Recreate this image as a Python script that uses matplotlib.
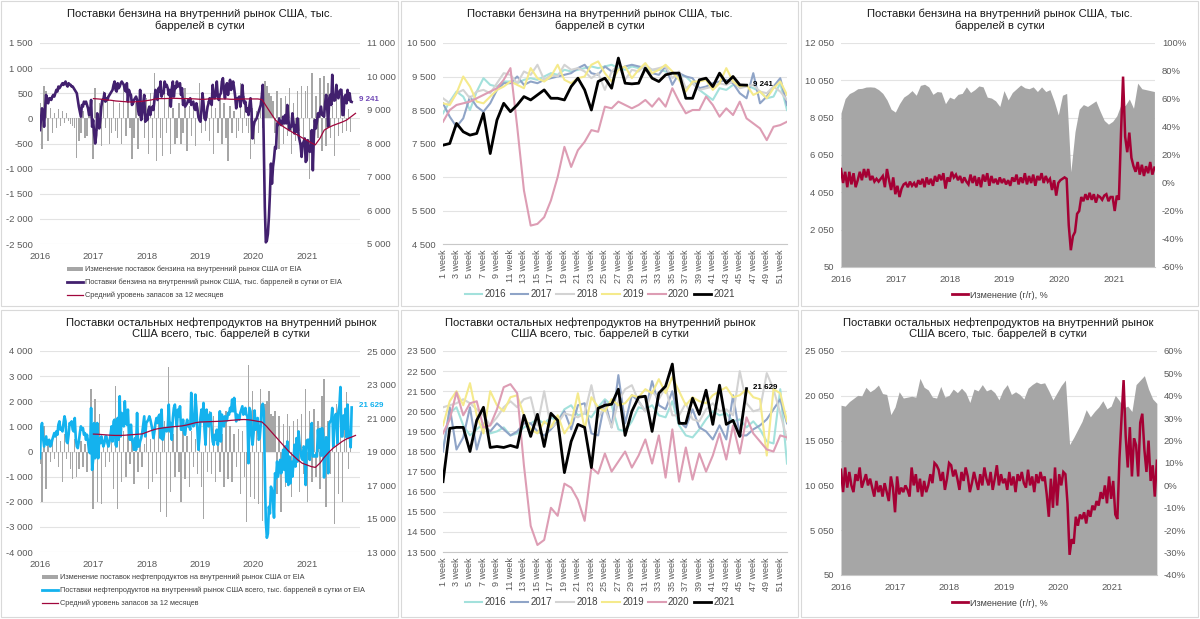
import pandas as pd
import matplotlib
matplotlib.use("Agg")
import matplotlib.pyplot as plt
from matplotlib.patches import Rectangle, Patch
from matplotlib.lines import Line2D
from matplotlib.ticker import FuncFormatter

plt.rcParams['font.family'] = ['Liberation Sans', 'DejaVu Sans']

# ---------------- data: gasoline, weekly by year (тыс. барр./сутки) ----------------
gas_2016 = [8400, 8750, 9050, 8900, 8500, 9050, 9450, 9250, 9200, 9350, 9350, 9300, 9400, 9450, 9400, 9500,
            9600, 9550, 9700, 9650, 9700, 9750, 9800, 9750, 9800, 9850, 9750, 9700, 9800, 9750, 9750, 9700,
            9700, 9650, 9600, 9550, 9500, 9300, 9100, 8950, 8800, 9150, 9100, 9250, 9200, 9250, 9150, 9050,
            8850, 8900, 9300, 8500]
gas_2017 = [8700, 8300, 8000, 8250, 8900, 8600, 8450, 8700, 9100, 9300, 9300, 9500, 9250, 9350, 9300, 9400,
            9450, 9500, 9550, 9600, 9750, 9850, 9600, 9550, 9800, 9650, 9700, 9800, 9850, 9800, 9750, 9600,
            9550, 9800, 9250, 9600, 9500, 9450, 9150, 9200, 9300, 9350, 9400, 9300, 9000, 8850, 9600, 8700,
            8900, 9200, 9450, 8650]
gas_2018 = [8850, 8700, 9000, 9100, 8850, 9050, 9100, 9000, 9300, 9600, 9550, 9300, 9650, 9550, 9850, 9400,
            9550, 9500, 9850, 9700, 9750, 9650, 9450, 9600, 9100, 9650, 9850, 9400, 9700, 9650, 9850, 9700,
            9750, 9800, 9450, 9650, 9150, 9300, 9100, 9150, 9200, 9300, 9250, 9350, 9150, 9200, 9250, 9050,
            9000, 9200, 9050, 8800]
gas_2019 = [8700, 8650, 9000, 9500, 9200, 8750, 8700, 8900, 9100, 9200, 9350, 9250, 9150, 9750, 9450, 9350,
            9500, 9850, 9400, 9300, 9450, 9500, 9850, 9950, 9600, 9350, 9700, 9800, 9450, 9700, 9900, 9600,
            9700, 9850, 9650, 9400, 9050, 9350, 9350, 9400, 9100, 9300, 9750, 9350, 9200, 9250, 8950, 9050,
            8850, 9150, 9350, 8950]
gas_2020 = [8150, 8500, 8650, 8700, 8750, 8850, 8950, 9050, 9150, 9400, 9750, 8000, 6100, 5050, 5100, 5300,
            5800, 6500, 7400, 6800, 7300, 7550, 7900, 7850, 8600, 8550, 8750, 8650, 8550, 8650, 8800, 8600,
            8850, 8600, 9150, 8750, 8400, 8500, 8500, 8900, 8650, 8300, 8550, 8350, 8750, 8250, 8100, 7950,
            7600, 8000, 8050, 8150]
gas_2021 = [7450, 7500, 8100, 7850, 7750, 7800, 8400, 7200, 8200, 8700, 8450, 8650, 8900, 8800, 8950, 9100,
            8850, 8850, 8800, 9200, 9450, 9100, 8500, 9350, 9450, 9150, 10050, 9300, 9280, 9300, 9750, 9450,
            9350, 9550, 9600, 9600, 8850, 8850, 9400, 9450, 9200, 9600, 9300, 9500, 9250, 9241]

# gasoline: change bars (bi-weekly)
gas_bars_2016 = [300, -600, 650, 550, -450, 200, -300, 100, -200, 180, -150, 150, -100, 100, -50, -120,
                 -150, -200, -780, -450, -300, 150, -400, -350, 200, 180]
gas_bars_2017 = [-800, 600, -250, 300, -550, 550, -200, 450, -500, -300, 350, -250, -400, 300, -500, 600,
                 -350, 400, -200, -800, -400, 300, -600, 250, 150, -400]
gas_bars_2018 = [400, -700, 500, -400, 900, -850, 650, -400, -750, 500, -300, 400, -700, 200, -500, -400,
                 300, -500, -300, 600, -650, 250, -350, 300, -550, 150]
gas_bars_2019 = [700, -300, 450, -250, 350, -450, 300, -700, 200, -300, 400, -500, 300, -400, -850, 250,
                 -300, 150, -400, -250, 700, -300, 450, -150, -300, -800]
gas_bars_2020 = [200, -500, 150, -300, 200, -200, 750, 650, 500, 450, 350, -300, 550, -600, 400, -500,
                 450, -350, 600, -700, 300, -450, 550, -250, 650, -500]
gas_bars_2021 = [550, 650, -1200, 900, -200, 450, -400, 800, -650, 850, -550, 700, -400, 250, -750, 400,
                 -350, 600, -300, 200, -250, 180, -280]

# gasoline: 12-month average, monthly from Jan 2017
gas_avg = [9340, 9330, 9320, 9300, 9290, 9270, 9260, 9250, 9240, 9240, 9250, 9260,
           9280, 9300, 9330, 9340, 9340, 9345, 9350, 9345, 9340, 9340, 9335, 9330,
           9320, 9320, 9330, 9330, 9335, 9330, 9330, 9320, 9320, 9325, 9330, 9330,
           9330, 9330, 9310, 9100, 8900, 8700, 8580, 8480, 8400, 8320, 8250, 8170,
           8100, 8020, 7960, 8150, 8400, 8480, 8540, 8590, 8640, 8700, 8800, 8900]

# gasoline: area (4-weekly) and y/y change (bi-weekly, %)
gas_area = [8300, 9070, 9340, 9450, 9600, 9620, 9690, 9700, 9680, 9550, 9350, 9000, 8500,
            8350, 8800, 9150, 9300, 9500, 9250, 9780, 9840, 9700, 9300, 9450, 9420, 8800,
            9150, 9050, 9300, 9350, 9700, 9400, 9550, 9750, 9700, 9150, 9100, 8950, 8650,
            9500, 9000, 9400, 9600, 9800, 9650, 9600, 9700, 9450, 9700, 9450, 9550, 8950,
            8200, 9250, 9350, 5150, 7300, 8500, 8750, 8650, 8800, 8950, 8400, 7900, 7700,
            7850, 8150, 8750, 8700, 9050, 8550, 9900, 9600, 9550, 9500, 9450]
gas_yoy = ([10, 0, 8, -3, 8, -1, 7, -3, 2, 8, 2, 10, 4, 10, 2, 5, 1, 3, 1, 3, 5, -3, 10, 2, -5, 4] +
           [-8, -2, -10, -4, -1, 0, -3, 1, -2, 0, -3, 2, -1, 3, -3, 4, -1, 3, -2, 5, 1, 6, 2, 7, -4, 4] +
           [1, 8, 4, 6, 2, 5, 0, 4, 1, -1, 6, 0, 5, -2, 4, -3, 6, 1, 7, -2, 5, 0, 3, -1, 4, 0] +
           [3, -1, 2, -2, 4, 1, 6, -1, 4, 0, 7, -1, 5, 0, 6, -2, 5, 2, 7, 0, 5, 1, 3, -5, 2, -9] +
           [0, 2, 3, 4, 3, -30, -48, -38, -35, -22, -20, -10, -13, -8, -12, -7, -12, -8, -14, -9,
            -10, -12, -9, -8, -13, -10] +
           [-10, -20, -9, -12, 35, 76, 33, 22, 36, 18, 12, 8, 15, 6, 13, 5, 12, 7, 15, 6, 11])

# ---------------- data: other products ----------------
oth_2016 = [18600, 20400, 20700, 19800, 19300, 19600, 19900, 19400, 19500, 19700, 19300, 19400, 19700,
            19900, 20100, 19900, 20200, 20000, 20600, 20800, 20300, 20400, 20200, 20700, 21100, 20800,
            19600, 19500, 20000, 20700, 20600, 20800, 20300, 20200, 21000, 19800, 19300, 19200, 19600,
            20100, 20500, 20300, 20400, 20000, 20100, 19700, 20000, 19600, 19000, 18900, 21600, 17900]
oth_2017 = [18500, 20700, 18600, 19200, 20700, 18600, 19800, 19500, 19900, 19600, 19300, 19500, 19900,
            19900, 19500, 19300, 19600, 20000, 20500, 19600, 20800, 20900, 19400, 19300, 21000, 19700,
            22300, 19900, 21300, 21000, 20500, 22000, 20800, 20600, 21500, 20000, 19700, 20600, 19700,
            19500, 19100, 19800, 19100, 21300, 19300, 19300, 19600, 19800, 20100, 20600, 21100, 19900]
oth_2018 = [20700, 20800, 20900, 21100, 20900, 20600, 20300, 19800, 20200, 20700, 21000, 20700, 21100,
            21200, 19800, 21500, 19700, 19900, 20400, 20300, 20200, 20400, 21800, 20200, 20700, 19700,
            21000, 21600, 21800, 21000, 20500, 21500, 21100, 21700, 20300, 20300, 20900, 20100, 20000,
            20600, 20900, 20500, 20600, 20300, 22500, 20900, 20500, 20600, 22400, 21600, 20400, 19100]
oth_2019 = [19800, 21000, 21500, 20800, 21900, 20300, 19400, 21500, 20800, 20500, 21200, 21300, 20300,
            19600, 19400, 20000, 19700, 20300, 19400, 19900, 21400, 19600, 21200, 20700, 20500, 21100,
            20800, 20900, 21300, 21200, 21600, 21400, 22100, 21400, 22200, 21500, 20800, 21200, 21000,
            20900, 21300, 21500, 21700, 21200, 21300, 21600, 21200, 21100, 18300, 21600, 21400, 20000]
oth_2020 = [19400, 20100, 21450, 20300, 20900, 21000, 19700, 19800, 20600, 21700, 21850, 21400, 17800,
            14800, 13850, 14100, 15700, 15300, 16900, 16700, 16100, 15050, 17700, 17400, 18400, 17500,
            18000, 18500, 17700, 18300, 19100, 17900, 19300, 17200, 19600, 17000, 18700, 17100, 18400,
            17500, 18300, 19400, 18100, 19800, 18400, 20200, 19400, 19000, 18600, 18500, 19300, 19200]
oth_2021 = [17000, 19650, 19700, 19700, 18500, 20050, 20700, 18700, 18750, 18700, 18800, 18700, 20300,
            19250, 20350, 18750, 20400, 20050, 17450, 19000, 19850, 19700, 17700, 20650, 20800, 20850,
            21600, 19300, 20500, 21200, 21250, 19500, 21400, 21750, 22850, 19900, 19900, 21150, 20350,
            21550, 19850, 21800, 19850, 20050, 19250, 21629]

oth_bars_2016 = [-500, -2000, 1000, -1500, 500, -400, 400, -300, 700, -600, 400, -1200, 700, -300, 900,
                 -700, -1100, 500, -1000, -700, 400, -600, 300, -800, 200, 2500]
oth_bars_2017 = [-2300, 2100, -2000, 1500, -2100, 400, -600, 300, -400, 800, -1500, 2600, -2300, 1700,
                 -1200, 800, -1000, 700, -500, 600, -1300, 500, -800, 400, -600, 300]
oth_bars_2018 = [1000, -1500, 500, -1200, 800, -900, 1200, -2400, 1600, 1200, -2600, 3350, -1600, 700,
                 -1000, 1500, -800, -2000, 1300, -1100, 600, -1400, 800, -600, 500, -900]
oth_bars_2019 = [1300, -1400, -2700, 1000, -800, 1600, -900, 1400, -1200, 900, -800, 700, -1400, 1600,
                 -1100, 1000, -1200, 700, -600, 900, -1700, 800, -1000, -2800, 3450, -1800]
oth_bars_2020 = [2400, -1900, 1000, -2100, 2500, -2750, 1900, 2000, 2400, 1500, 1400, 1600, -1700, 1400,
                 -2400, 1100, -1400, 1500, 1000, -1800, 1200, -500, 1300, -1600, 1500, -900]
oth_bars_2021 = [2500, -2000, 1600, -1200, 1700, -1000, 1200, -1500, 2200, 2900, -2200, 1200, -900, 1400,
                 -2900, 1900, -1700, 2400, -2000, 1000, 2350, -700, 800]

oth_avg = [20040, 20030, 20010, 19990, 19970, 19960, 19960, 19970, 19990, 20010, 20030, 20050,
           20150, 20250, 20330, 20380, 20420, 20450, 20480, 20500, 20530, 20580, 20650, 20720,
           20760, 20770, 20780, 20790, 20800, 20810, 20830, 20860, 20880, 20900, 20910, 20890,
           20850, 20800, 20760, 20500, 20200, 19900, 19600, 19300, 19000, 18750, 18500, 18300,
           18200, 18100, 18050, 18300, 18650, 18950, 19200, 19400, 19600, 19750, 19850, 19960]

oth_area = [19000, 18900, 19400, 19750, 20100, 20050, 21000, 20500, 20800, 21250, 20300, 20200, 17950,
            18800, 20500, 19800, 19900, 20000, 19900, 22000, 21000, 20700, 19900, 19800, 21100, 19900,
            20100, 20800, 20400, 20900, 20400, 19300, 20800, 20600, 21300, 20600, 20800, 20400, 19600,
            20700, 21300, 20200, 20500, 20200, 19700, 20900, 21300, 21600, 21400, 21500, 20600, 19600,
            20400, 21200, 21800, 14600, 15400, 16300, 17200, 18500, 17700, 18300, 18800, 19500, 18600,
            18900, 20100, 19500, 18700, 18900, 18300, 21300, 21800, 22300, 20800, 19700, 19200]
oth_yoy = ([7, -3, 8, -1, 6, 0, -3, 5, 2, 8, -1, 2, 5, 0, 3, -1, -5, 2, -3, 0, -5, 1, -3, -7, 4, -1] +
           [-12, 4, -4, -1, -3, 0, -2, -5, 8, 0, 5, -3, 3, -5, 2, -3, 0, 5, 1, 10, 9, 7, 2, 6, -2, 3] +
           [10, 9, 4, 7, 3, -2, 6, 2, 8, 4, -3, 1, 6, 2, -2, 5, 0, 8, 3, 0, 6, -2, 3, 9, 0, 5] +
           [1, 3, -2, 6, 0, 4, -3, 5, 2, 6, 1, -1, 7, 0, 4, -3, 5, 1, 6, 2, 4, -4, -14, 3, -10, 8] +
           [-9, 5, 0, 6, 5, -8, -31, -24, -26, -14, -18, -13, -15, -12, -17, -11, -14, -9, -11, -7,
            -9, -3, -6, 0, -8, 4] +
           [-6, 2, -13, -15, 12, 30, 47, 22, 8, 26, 4, 21, 18, 4, 28, 32, 16, 6, 20, 2, 9, -5, 11])

years = ['2016', '2017', '2018', '2019', '2020', '2021']
year_colors = ['#a3e1dc', '#8fa4c7', '#d3d3d3', '#f5ea8c', '#dd9db4', '#000000']
week_labels = [f'{w} week' for w in range(1, 53, 2)]

title_gas = 'Поставки бензина на внутренний рынок США, тыс.\nбаррелей в сутки'
title_oth = 'Поставки остальных нефтепродуктов на внутренний рынок\nСША всего, тыс. баррелей в сутки'

# ---------------- helpers ----------------
W, H = 1200, 619
fig = plt.figure(figsize=(12, 6.19), dpi=100)
TICK = '#595959'
GRID = '#e3e3e3'


def ax_at(x0, y0, x1, y1):
    return fig.add_axes([x0 / W, 1 - y1 / H, (x1 - x0) / W, (y1 - y0) / H])


def num(v, pos=None):
    s = f'{abs(v):,.0f}'.replace(',', ' ')
    return '-' + s if v < 0 else s


def pct(v, pos=None):
    return f'{v:.0f}%'


def clean(ax, grid=True):
    for s in ax.spines.values():
        s.set_visible(False)
    ax.tick_params(length=0, labelsize=6.8, colors=TICK, pad=5)
    if grid:
        ax.yaxis.grid(True, color=GRID, lw=0.8)
        ax.set_axisbelow(True)


def year_axis(ax, end):
    ax.set_xlim(pd.Timestamp('2016-01-01'), pd.Timestamp(end))
    ax.set_xticks([pd.Timestamp(f'{y}-01-01') for y in years])
    ax.set_xticklabels(years)


def title(x, y, text):
    fig.text(x / W, 1 - y / H, text, ha='center', va='top', fontsize=8.1, color='#1a1a1a',
             linespacing=1.15)


# panel frames
for (x, y, w, h) in [(1, 1, 397, 305), (401, 1, 397, 305), (801, 1, 397, 305),
                     (1, 310, 397, 307), (401, 310, 397, 307), (801, 310, 397, 307)]:
    fig.patches.append(Rectangle((x / W, 1 - (y + h) / H), w / W, h / H, transform=fig.transFigure,
                                 fill=False, edgecolor='#d9d9d9', lw=0.8))

weekly_dates = pd.date_range('2016-01-01', periods=306, freq='7D')
biweek_dates = pd.date_range('2016-01-01', periods=153, freq='14D')
avg_dates = pd.date_range('2017-01-01', periods=60, freq='MS')


def history_panel(box, ttl, tx, ty, bars, line, avg, left_lim, left_step, right_lim, right_step,
                  line_color, label_color, labels, leg_xy):
    ax = ax_at(*box)
    clean(ax)
    ax.bar(biweek_dates[:len(bars)], bars, width=9.5, color='#a6a6a6', zorder=2)
    ax.set_ylim(*left_lim)
    ax.set_yticks(range(left_lim[0], left_lim[1] + 1, left_step))
    ax.yaxis.set_major_formatter(FuncFormatter(num))
    year_axis(ax, '2022-01-01')
    ax.tick_params(axis='x', pad=6)
    axr = ax.twinx()
    clean(axr, grid=False)
    axr.plot(weekly_dates[:len(line)], line, color=line_color, lw=1.9, solid_joinstyle='round')
    axr.plot(avg_dates, avg, color='#a0063c', lw=0.9)
    axr.set_ylim(*right_lim)
    axr.set_yticks(range(right_lim[0], right_lim[1] + 1, right_step))
    axr.yaxis.set_major_formatter(FuncFormatter(num))
    axr.annotate(num(line[-1]), xy=(weekly_dates[len(line) - 1], line[-1]), xytext=(5, 1.5),
                 textcoords='offset points', fontsize=5.8, fontweight='bold', color=label_color,
                 va='center', ha='left')
    title(tx, ty, ttl)
    handles = [Patch(facecolor='#a6a6a6'), Line2D([], [], color=line_color, lw=2),
               Line2D([], [], color='#a0063c', lw=0.9)]
    fig.legend(handles, labels, loc='upper left', bbox_to_anchor=(leg_xy[0] / W, 1 - leg_xy[1] / H),
               frameon=False, fontsize=5.3, handlelength=2.2, handleheight=0.6, handletextpad=0.2,
               labelspacing=0.75, borderpad=0, borderaxespad=0, labelcolor='#404040')


def season_panel(box, ttl, tx, ty, series, lim, leg_y, end_label):
    ax = ax_at(*box)
    clean(ax)
    ax.spines['bottom'].set_visible(True)
    ax.spines['bottom'].set_color('#c8c8c8')
    for vals, col, yr in zip(series, year_colors, years):
        ax.plot(range(1, len(vals) + 1), vals, color=col, lw=2.0 if yr == '2021' else 1.5,
                solid_joinstyle='round', label=yr)
    last = series[-1]
    ax.annotate(end_label, xy=(len(last), last[-1]), xytext=(4.5, 0.5), textcoords='offset points',
                fontsize=5.8, fontweight='bold', va='center', ha='left')
    ax.set_xlim(1, 52)
    ax.set_ylim(*lim)
    ax.set_yticks(range(lim[0], lim[1] + 1, 1000))
    ax.yaxis.set_major_formatter(FuncFormatter(num))
    ax.set_xticks(range(1, 53, 2))
    ax.set_xticklabels(week_labels, rotation=90, fontsize=6.5)
    ax.tick_params(axis='x', pad=4)
    title(tx, ty, ttl)
    ax.legend(loc='center', bbox_to_anchor=(600 / W, 1 - leg_y / H), bbox_transform=fig.transFigure,
              ncol=6, frameon=False, fontsize=7, handlelength=1.8, handletextpad=0.25,
              columnspacing=0.45, labelcolor='#404040')


def yoy_panel(box, ttl, tx, ty, area, yoy, left_lim, left_step, right_lim, right_step, end, leg_y):
    ax = ax_at(*box)
    clean(ax)
    ax.spines['bottom'].set_visible(True)
    ax.spines['bottom'].set_color('#c8c8c8')
    area_dates = pd.date_range('2016-01-01', periods=len(area), freq='28D')
    ax.fill_between(area_dates, left_lim[0], area, color='#a6a6a6', lw=0, zorder=2)
    ax.set_ylim(*left_lim)
    ax.set_yticks(range(left_lim[0], left_lim[1] + 1, left_step))
    ax.yaxis.set_major_formatter(FuncFormatter(num))
    year_axis(ax, end)
    ax.tick_params(axis='x', pad=6)
    axr = ax.twinx()
    clean(axr, grid=False)
    yoy_dates = pd.date_range('2016-01-01', periods=len(yoy), freq='14D')
    axr.plot(yoy_dates, yoy, color='#a50034', lw=1.8, solid_joinstyle='miter')
    axr.set_ylim(*right_lim)
    axr.set_yticks(range(right_lim[0], right_lim[1] + 1, right_step))
    axr.yaxis.set_major_formatter(FuncFormatter(pct))
    title(tx, ty, ttl)
    fig.legend([Line2D([], [], color='#a50034', lw=2)], ['Изменение (г/г), %'], loc='center',
               bbox_to_anchor=(1000 / W, 1 - leg_y / H), frameon=False, fontsize=6.5,
               handlelength=1.8, handletextpad=0.2, labelcolor='#404040')


gas_line = gas_2016 + gas_2017 + gas_2018 + gas_2019 + gas_2020 + gas_2021
oth_line = oth_2016 + oth_2017 + oth_2018 + oth_2019 + oth_2020 + oth_2021
gas_bars = gas_bars_2016 + gas_bars_2017 + gas_bars_2018 + gas_bars_2019 + gas_bars_2020 + gas_bars_2021
oth_bars = oth_bars_2016 + oth_bars_2017 + oth_bars_2018 + oth_bars_2019 + oth_bars_2020 + oth_bars_2021

history_panel((40, 43, 360, 244), title_gas, 200, 9, gas_bars, gas_line, gas_avg,
              (-2500, 1500), 500, (5000, 11000), 1000, '#42206e', '#7048b6',
              ['Изменение поставок бензина на внутренний рынок США от EIA',
               'Поставки бензина на внутренний рынок США, тыс. баррелей в сутки от EIA',
               'Средний уровень запасов за 12 месяцев'], (67, 266))

history_panel((40, 351, 360, 552), title_oth, 221, 317, oth_bars, oth_line, oth_avg,
              (-4000, 4000), 1000, (13000, 25000), 2000, '#14b2ee', '#14b2ee',
              ['Изменение поставок нефтепродуктов на внутренний рынок США от EIA',
               'Поставки нефтепродуктов на внутренний рынок США всего, тыс. баррелей в сутки от EIA',
               'Средний уровень запасов за 12 месяцев'], (42, 574))

season_panel((443, 43, 787, 244), title_gas, 600, 9,
             [gas_2016, gas_2017, gas_2018, gas_2019, gas_2020, gas_2021], (4500, 10500), 294, '9 241')
season_panel((443, 351, 787, 552), title_oth, 600, 317,
             [oth_2016, oth_2017, oth_2018, oth_2019, oth_2020, oth_2021], (13500, 23500), 602, '21 629')

yoy_panel((841, 43, 1155, 267), title_gas, 1000, 9, gas_area, gas_yoy,
          (50, 12050), 2000, (-60, 100), 20, '2021-10-05', 295)
yoy_panel((841, 351, 1157, 575), title_oth, 998, 317, oth_area, oth_yoy,
          (50, 25050), 5000, (-40, 60), 10, '2021-10-30', 603)

fig.savefig('out.png', dpi=100, facecolor='white')
